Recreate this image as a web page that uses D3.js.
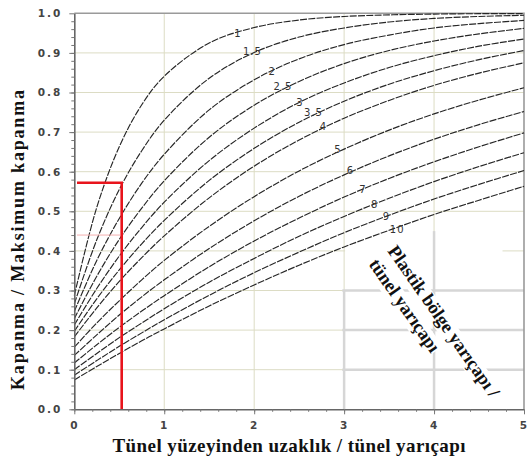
<!DOCTYPE html>
<html>
<head>
<meta charset="utf-8">
<script src="https://cdn.jsdelivr.net/npm/d3@7"></script>
<style>
  body { margin: 0; background: #fff; }
  svg { display: block; }
  .tick text { font-family: "DejaVu Sans", sans-serif; font-weight: bold; font-size: 10.5px; fill: #444; letter-spacing: 2px; }
  .title { font-family: "Liberation Serif", "Times New Roman", serif; font-weight: bold; fill: #111; }
  .clabel { font-family: "DejaVu Sans", sans-serif; font-size: 10px; fill: #333; letter-spacing: 1px; }
</style>
</head>
<body>
<div id="chart"></div>
<script>
// distance from tunnel face / tunnel radius
const xs = [0, 0.25, 0.5, 0.75, 1, 1.5, 2, 2.5, 3, 3.5, 4, 4.5, 5];

// closure / max closure, one array per plastic zone radius ratio
const c1   = [0.287, 0.510, 0.663, 0.769, 0.841, 0.925, 0.964, 0.983, 0.992, 0.996, 0.998, 0.999, 0.999];
const c1_5 = [0.266, 0.428, 0.555, 0.653, 0.730, 0.836, 0.901, 0.940, 0.963, 0.978, 0.987, 0.992, 0.995];
const c2   = [0.247, 0.376, 0.482, 0.571, 0.644, 0.756, 0.832, 0.885, 0.921, 0.945, 0.963, 0.974, 0.982];
const c2_5 = [0.229, 0.336, 0.429, 0.508, 0.577, 0.687, 0.768, 0.828, 0.873, 0.906, 0.930, 0.948, 0.962];
const c3   = [0.213, 0.305, 0.387, 0.459, 0.523, 0.628, 0.710, 0.775, 0.824, 0.863, 0.893, 0.917, 0.935];
const c3_5 = [0.197, 0.279, 0.352, 0.418, 0.477, 0.578, 0.659, 0.725, 0.778, 0.821, 0.855, 0.883, 0.906];
const c4   = [0.183, 0.256, 0.323, 0.383, 0.438, 0.534, 0.614, 0.680, 0.735, 0.780, 0.818, 0.849, 0.875];
const c5   = [0.157, 0.218, 0.274, 0.327, 0.376, 0.462, 0.537, 0.602, 0.657, 0.705, 0.746, 0.781, 0.812];
const c6   = [0.136, 0.188, 0.238, 0.284, 0.327, 0.406, 0.476, 0.538, 0.592, 0.640, 0.682, 0.719, 0.752];
const c7   = [0.117, 0.163, 0.207, 0.248, 0.287, 0.360, 0.425, 0.483, 0.536, 0.583, 0.625, 0.663, 0.698];
const c8   = [0.100, 0.141, 0.181, 0.218, 0.254, 0.321, 0.381, 0.437, 0.487, 0.533, 0.575, 0.613, 0.648];
const c9   = [0.086, 0.123, 0.159, 0.193, 0.226, 0.288, 0.345, 0.397, 0.446, 0.490, 0.531, 0.568, 0.603];
const c10  = [0.074, 0.108, 0.141, 0.173, 0.203, 0.261, 0.314, 0.364, 0.410, 0.452, 0.492, 0.528, 0.563];

const ratioLabels = ['1', '1.5', '2', '2.5', '3', '3.5', '4', '5', '6', '7', '8', '9', '10'];
const labelX = [1.82, 1.98, 2.20, 2.32, 2.51, 2.66, 2.77, 2.93, 3.07, 3.21, 3.34, 3.47, 3.59];
const labelY = [0.950, 0.903, 0.852, 0.815, 0.774, 0.749, 0.713, 0.655, 0.602, 0.556, 0.516, 0.486, 0.453];

const xTickLabels = ['0', '1', '2', '3', '4', '5'];
const yTickLabels = ['0.0', '0.1', '0.2', '0.3', '0.4', '0.5', '0.6', '0.7', '0.8', '0.9', '1.0'];

// red reading lines
const readX = 0.527, readY = 0.572, readStartX = 0.03;
const faintY = 0.44, faintEndX = 0.51;

const width = 532, height = 459;
const margin = {top: 13.3, right: 8, bottom: 49.7, left: 74.3};

const svg = d3.select('#chart').append('svg')
    .attr('width', width)
    .attr('height', height);

const x = d3.scaleLinear().domain([0, 5]).range([margin.left, width - margin.right]);
const y = d3.scaleLinear().domain([0, 1]).range([height - margin.bottom, margin.top]);

const xMajor = xTickLabels.map(Number);
const yMajor = yTickLabels.map(Number);

// grid
const grid = svg.append('g');
grid.selectAll('.hg').data(yMajor.slice(1, -1)).enter().append('line')
    .attr('x1', x(0)).attr('x2', x(5))
    .attr('y1', d => y(d)).attr('y2', d => y(d))
    .attr('stroke', '#dcdcc4').attr('stroke-width', 1);
grid.selectAll('.vg').data(xMajor.slice(1, -1)).enter().append('line')
    .attr('x1', d => x(d)).attr('x2', d => x(d))
    .attr('y1', y(0)).attr('y2', y(1))
    .attr('stroke', '#dcdcc4').attr('stroke-width', 1);

// pasted patch behind the rotated note (grey, thicker grid)
grid.append('rect')
    .attr('x', x(3) + 1).attr('y', y(0.4) - 2)
    .attr('width', x(4.75) - x(3)).attr('height', 4)
    .attr('fill', '#fff');
grid.selectAll('.pg').data([0.1, 0.2, 0.3]).enter().append('line')
    .attr('x1', x(2.98)).attr('x2', x(5))
    .attr('y1', d => y(d)).attr('y2', d => y(d))
    .attr('stroke', '#d6d6d6').attr('stroke-width', 2.5);
grid.append('line')
    .attr('x1', x(4)).attr('x2', x(4)).attr('y1', y(0)).attr('y2', y(0.45))
    .attr('stroke', '#d6d6d6').attr('stroke-width', 2.5);
grid.append('line')
    .attr('x1', x(3)).attr('x2', x(3)).attr('y1', y(0)).attr('y2', y(0.3))
    .attr('stroke', '#d6d6d6').attr('stroke-width', 2.5);

// frame top / right
svg.append('path')
    .attr('d', `M${x(0)},${y(1)}H${x(5)}V${y(0)}`)
    .attr('fill', 'none').attr('stroke', '#9a9a9a').attr('stroke-width', 1.6);

// curves
const series = [c1, c1_5, c2, c2_5, c3, c3_5, c4, c5, c6, c7, c8, c9, c10];
const line = d3.line()
    .x((d, i) => x(xs[i]))
    .y(d => y(d))
    .curve(d3.curveCatmullRom.alpha(0.5));

svg.append('g').selectAll('path').data(series).enter().append('path')
    .attr('d', d => line(d))
    .attr('fill', 'none')
    .attr('stroke', '#262626')
    .attr('stroke-width', 1.15)
    .attr('stroke-dasharray', '7,1.3');

svg.append('g').selectAll('text').data(ratioLabels).enter().append('text')
    .attr('class', 'clabel')
    .attr('x', (d, i) => x(labelX[i]))
    .attr('y', (d, i) => y(labelY[i]))
    .attr('text-anchor', 'middle')
    .attr('dy', '0.35em')
    .text(d => d);

// red reading lines
svg.append('line')
    .attr('x1', x(readStartX)).attr('x2', x(faintEndX))
    .attr('y1', y(faintY)).attr('y2', y(faintY))
    .attr('stroke', '#f4b0b0').attr('stroke-width', 1);
svg.append('path')
    .attr('d', `M${x(readStartX)},${y(readY)}H${x(readX)}V${y(0)}`)
    .attr('fill', 'none').attr('stroke', '#e8141c').attr('stroke-width', 2.6);

// rotated note, white only right under the letters
const note = svg.append('g')
    .attr('transform', 'translate(387,251) rotate(55)');
note.append('rect')
    .attr('x', -2).attr('y', -14)
    .attr('width', 184).attr('height', 19)
    .attr('fill', '#fff');
note.append('rect')
    .attr('x', -2).attr('y', 9)
    .attr('width', 112).attr('height', 19)
    .attr('fill', '#fff');
note.append('text')
    .attr('class', 'title')
    .attr('font-size', 18.5)
    .text('Plastik bölge yarıçapı /');
note.append('text')
    .attr('class', 'title')
    .attr('font-size', 18.5)
    .attr('y', 23)
    .text('tünel yarıçapı');

// axes
const yAxis = svg.append('g')
    .attr('transform', `translate(${x(0)},0)`)
    .call(d3.axisLeft(y).tickValues(yMajor).tickFormat((d, i) => yTickLabels[i]).tickSize(5).tickPadding(9).tickSizeOuter(0));
svg.append('g')
    .attr('transform', `translate(${x(0)},0)`)
    .call(d3.axisLeft(y).tickValues(d3.range(0, 50).map(i => i * 0.02)).tickFormat('').tickSize(3).tickSizeOuter(0))
    .call(g => g.select('.domain').remove());

const xAxis = svg.append('g')
    .attr('transform', `translate(0,${y(0)})`)
    .call(d3.axisBottom(x).tickValues(xMajor).tickFormat((d, i) => xTickLabels[i]).tickSize(5).tickPadding(7).tickSizeOuter(0));
svg.append('g')
    .attr('transform', `translate(0,${y(0)})`)
    .call(d3.axisBottom(x).tickValues(d3.range(0, 25).map(i => i * 0.2)).tickFormat('').tickSize(2.5).tickSizeOuter(0))
    .call(g => g.select('.domain').remove());

svg.selectAll('.domain').attr('stroke', '#666').attr('stroke-width', 1.6);
svg.selectAll('.tick line').attr('stroke', '#777');
yAxis.selectAll('.tick text').attr('dx', '2px');

// titles
svg.append('text')
    .attr('class', 'title')
    .attr('x', 289).attr('y', 452)
    .attr('text-anchor', 'middle')
    .attr('font-size', 19)
    .attr('textLength', 353)
    .text('Tünel yüzeyinden uzaklık / tünel yarıçapı');

svg.append('text')
    .attr('class', 'title')
    .attr('transform', 'translate(23.5,240) rotate(-90)')
    .attr('text-anchor', 'middle')
    .attr('font-size', 18)
    .attr('textLength', 300)
    .text('Kapanma / Maksimum kapanma');
</script>
</body>
</html>
